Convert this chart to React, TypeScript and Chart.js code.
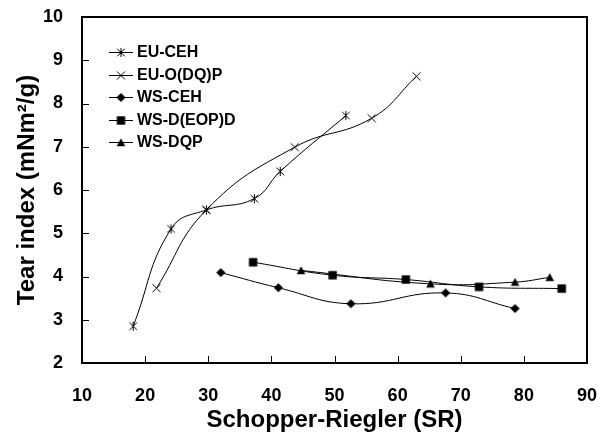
import { useEffect, useRef } from 'react';
import { Chart, registerables } from 'chart.js';

Chart.register(...registerables);

const seriesNames = ['EU-CEH', 'EU-O(DQ)P', 'WS-CEH', 'WS-D(EOP)D', 'WS-DQP'];

const euCehX = [18.1, 24.1, 29.7, 37.3, 41.4, 51.8];
const euCehY = [2.85, 5.1, 5.54, 5.8, 6.43, 7.72];
const euOdqpX = [21.8, 29.7, 43.7, 55.9, 63.0];
const euOdqpY = [3.73, 5.54, 6.99, 7.66, 8.63];
const wsCehX = [32.0, 41.1, 52.6, 67.6, 78.6];
const wsCehY = [4.09, 3.74, 3.37, 3.62, 3.26];
const wsDeopdX = [37.1, 49.7, 61.3, 72.9, 86.0];
const wsDeopdY = [4.33, 4.03, 3.93, 3.76, 3.72];
const wsDqpX = [44.7, 65.2, 78.6, 84.1];
const wsDqpY = [4.14, 3.83, 3.87, 3.98];

const markerKinds = ['asterisk', 'cross', 'diamond', 'square', 'triangle'];

const xMin = 10, xMax = 90, xStep = 10;
const yMin = 2, yMax = 10, yStep = 1;

const FONT = '"Liberation Sans", Arial, Helvetica, sans-serif';

function makeMarker(kind: string): HTMLCanvasElement {
  const c = document.createElement('canvas');
  c.width = 13;
  c.height = 13;
  const g = c.getContext('2d')!;
  const m = 6.5;
  g.strokeStyle = '#000';
  g.fillStyle = '#000';
  g.lineWidth = 1;
  if (kind === 'asterisk') {
    const d = 3.8;
    g.beginPath();
    g.moveTo(m - d, m - d); g.lineTo(m + d, m + d);
    g.moveTo(m + d, m - d); g.lineTo(m - d, m + d);
    g.moveTo(m, m - 4.6); g.lineTo(m, m + 4.6);
    g.stroke();
  } else if (kind === 'cross') {
    const d = 4;
    g.beginPath();
    g.moveTo(m - d, m - d); g.lineTo(m + d, m + d);
    g.moveTo(m + d, m - d); g.lineTo(m - d, m + d);
    g.stroke();
  } else if (kind === 'diamond') {
    const d = 4.6;
    g.beginPath();
    g.moveTo(m, m - d); g.lineTo(m + d, m); g.lineTo(m, m + d); g.lineTo(m - d, m);
    g.closePath();
    g.fill();
  } else if (kind === 'square') {
    const d = 4.2;
    g.fillRect(m - d, m - d, 2 * d, 2 * d);
  } else if (kind === 'triangle') {
    const d = 4.3;
    g.beginPath();
    g.moveTo(m, m - d); g.lineTo(m + d, m + d - 0.5); g.lineTo(m - d, m + d - 0.5);
    g.closePath();
    g.fill();
  }
  return c;
}

function pts(xs: number[], ys: number[]) {
  return xs.map((x, i) => ({ x, y: ys[i] }));
}

function zeroPadding(s: any) {
  s.paddingTop = 0;
  s.paddingBottom = 0;
  s.paddingLeft = 0;
  s.paddingRight = 0;
}

const axisBorder = { display: true, width: 2, color: '#000' };

export default function App() {
  const ref = useRef<HTMLCanvasElement | null>(null);

  useEffect(() => {
    if (!ref.current) return;
    const markers = markerKinds.map(makeMarker);
    const seriesData = [
      pts(euCehX, euCehY),
      pts(euOdqpX, euOdqpY),
      pts(wsCehX, wsCehY),
      pts(wsDeopdX, wsDeopdY),
      pts(wsDqpX, wsDqpY),
    ];

    const decorPlugin = {
      id: 'innerLegendAndFrame',
      afterDraw(chart: any) {
        const ctx = chart.ctx;
        const sx = chart.scales.x;
        const sy = chart.scales.y;
        const left = Math.round(sy.right);
        const right = Math.round(sx.right);
        const top = Math.round(sy.top);
        const bottom = Math.round(sx.top);
        ctx.save();
        ctx.globalAlpha = 1;
        ctx.globalCompositeOperation = 'source-over';
        ctx.fillStyle = '#000000';
        // inward tick marks
        for (let v = xMin + xStep; v < xMax; v += xStep) {
          const px = Math.round(sx.getPixelForValue(v));
          ctx.fillRect(px, bottom - 7, 1, 7);
        }
        for (let v = yMin + yStep; v < yMax; v += yStep) {
          const py = Math.round(sy.getPixelForValue(v));
          ctx.fillRect(left, py, 7, 1);
        }
        // plot frame
        ctx.fillRect(left - 1, top - 1, right - left + 2, 2);
        ctx.fillRect(left - 1, bottom - 1, right - left + 2, 2);
        ctx.fillRect(left - 1, top - 1, 2, bottom - top + 2);
        ctx.fillRect(right - 1, top - 1, 2, bottom - top + 2);

        // legend inside the plot
        ctx.strokeStyle = '#000000';
        ctx.font = `bold 16px ${FONT}`;
        ctx.textBaseline = 'middle';
        ctx.textAlign = 'left';
        const x0 = 109, x1 = 133, tx = 137;
        const y0 = 52, dy = 22.5;
        seriesNames.forEach((name, i) => {
          const y = Math.round(y0 + i * dy) + 0.5;
          ctx.lineWidth = 1;
          ctx.beginPath();
          ctx.moveTo(x0, y);
          ctx.lineTo(x1, y);
          ctx.stroke();
          const mk = markers[i];
          ctx.drawImage(mk, (x0 + x1) / 2 - mk.width / 2, y - mk.height / 2);
          ctx.fillText(name, tx, y + 0.5);
        });
        ctx.restore();
      },
    };

    const chart = new Chart(ref.current, {
      type: 'scatter',
      data: {
        datasets: seriesNames.map((name, i) => ({
          label: name,
          data: seriesData[i],
          showLine: true,
          tension: 0.45,
          borderColor: '#000',
          backgroundColor: '#000',
          borderWidth: 1,
          pointStyle: markers[i] as any,
          pointRadius: 5,
          xAxisID: 'x',
          yAxisID: 'y',
        })),
      },
      options: {
        responsive: false,
        animation: false,
        layout: { padding: { top: 17, right: 11, left: 0, bottom: 0 } },
        plugins: {
          legend: { display: false },
          tooltip: { enabled: false },
        },
        scales: {
          x: {
            type: 'linear',
            position: 'bottom',
            min: xMin,
            max: xMax,
            ticks: {
              stepSize: xStep,
              color: '#000',
              font: { family: FONT, size: 18, weight: 'bold' },
              padding: 22,
              maxRotation: 0,
            },
            grid: { display: false, drawTicks: false },
            border: axisBorder,
            title: {
              display: true,
              text: 'Schopper-Riegler (SR)',
              color: '#000',
              font: { family: FONT, size: 24, weight: 'bold' },
              padding: { top: 0, bottom: 3 },
            },
            afterFit: (s: any) => { s.height = 75; zeroPadding(s); },
          },
          y: {
            type: 'linear',
            position: 'left',
            min: yMin,
            max: yMax,
            ticks: {
              stepSize: yStep,
              color: '#000',
              font: { family: FONT, size: 18, weight: 'bold' },
              padding: 19,
            },
            grid: { display: false, drawTicks: false },
            border: axisBorder,
            title: {
              display: true,
              text: 'Tear index (mNm²/g)',
              color: '#000',
              font: { family: FONT, size: 24, weight: 'bold' },
              padding: { top: 13, bottom: 0 },
            },
            afterFit: (s: any) => { s.width = 82; zeroPadding(s); },
          },
        },
      } as any,
      plugins: [decorPlugin],
    });
    return () => chart.destroy();
  }, []);

  return (
    <canvas
      ref={ref}
      width={598}
      height={438}
      style={{ position: 'fixed', left: 0, top: 0, display: 'block', background: '#fff' }}
    />
  );
}
